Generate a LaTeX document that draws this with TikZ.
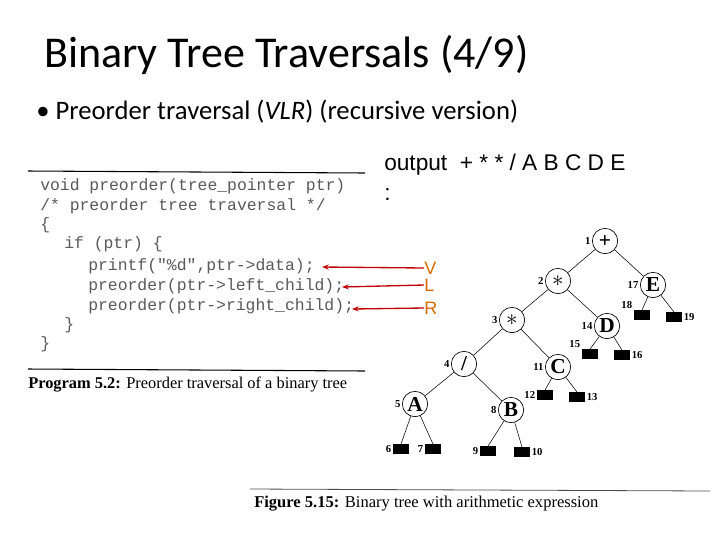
\documentclass[tikz,border=0pt]{standalone}
\usepackage{fontspec}
\setmainfont{Carlito}
\newfontfamily\codef{Liberation Mono}
\newfontfamily\serf{Liberation Serif}
\newfontfamily\arial{Liberation Sans}
\usetikzlibrary{arrows.meta}
\begin{document}
\begin{tikzpicture}[x=0.75pt,y=-0.75pt,
  inode/.style={circle,draw,line width=0.5pt,minimum size=19pt,inner sep=0pt,font=\serf\bfseries\fontsize{16}{16}\selectfont},
  leaf/.style={fill=black,minimum width=12pt,minimum height=7pt,inner sep=0pt},
  num/.style={font=\serf\bfseries\fontsize{8}{8}\selectfont,inner sep=1pt},
  code/.style={anchor=west,font=\codef\fontsize{12.3}{13}\selectfont,text=black!65,inner sep=0pt},
  redarr/.style={draw=red!75!black,line width=1pt,-{Stealth[length=5pt]}},
  vlr/.style={anchor=west,font=\arial\fontsize{13.5}{14}\selectfont,text=orange!85!black,inner sep=0pt}]
\useasboundingbox (0,0) rectangle (720,540);
\node[anchor=west,inner sep=0pt,font=\fontsize{33}{36}\selectfont] (title) at (44,55) {Binary Tree Traversals (4/9)};
\node[anchor=west,inner sep=0pt,font=\fontsize{20}{22}\selectfont] (bullet) at (36,112) {• Preorder traversal (\textit{VLR}) (recursive version)};
\node[anchor=west,inner sep=0pt,font=\arial\fontsize{17}{19}\selectfont] (out) at (384,165) {output~ + * * / A B C D E};
\node[anchor=west,inner sep=0pt,font=\arial\fontsize{17}{19}\selectfont] (colon) at (384,195) {:};
% code
\coordinate (t1) at (28,171); \coordinate (t2) at (365,173);
\draw[line width=0.8pt] (t1) -- (t2);
\node[code] (c1) at (40,186) {void preorder(tree\_pointer ptr)};
\node[code] (c2) at (40,206) {/* preorder tree traversal */};
\node[code] (c3) at (40,225) {\{};
\node[code] (c4) at (64,244) {if (ptr) \{};
\node[code] (c5) at (88,266) {printf("\%d",ptr->data);};
\node[code] (c6) at (88,286) {preorder(ptr->left\_child);};
\node[code] (c7) at (88,306) {preorder(ptr->right\_child);};
\node[code] (c8) at (64,325) {\}};
\node[code] (c9) at (40,344) {\}};
\coordinate (b1) at (28,369); \coordinate (b2) at (365,371);
\draw[line width=0.8pt] (b1) -- (b2);
\node[anchor=west,inner sep=0pt,font=\serf\fontsize{12.3}{13}\selectfont] (cap1) at (28,385) {\textbf{Program 5.2:} Preorder traversal of a binary tree};
% VLR
\node[vlr] (V) at (424,268) {V};
\node[vlr] (L) at (424,285) {L};
\node[vlr] (R) at (424,308) {R};
\coordinate (aV) at (322,267); \coordinate (aL) at (342,287); \coordinate (aR) at (352,309);
\draw[redarr] (V.west) -- (aV);
\draw[redarr] (L.west) -- (aL);
\draw[redarr] (R.west) -- (aR);
% tree
\node[inode] (n1) at (605,241) {+};
\node[inode] (n2) at (558,281) {$\ast$};
\node[inode] (n17) at (653,285) {E};
\node[inode] (n3) at (512,320) {$\ast$};
\node[inode] (n14) at (607,326) {D};
\node[inode] (n4) at (464,364) {/};
\node[inode] (n11) at (558,367) {C};
\node[inode] (n5) at (415,404) {A};
\node[inode] (n8) at (511,410) {B};
\node[leaf] (n18) at (642,315) {}; \node[leaf] (n19) at (674,317) {};
\node[leaf] (n15) at (590,354) {}; \node[leaf] (n16) at (622,355) {};
\node[leaf] (n12) at (545,395) {}; \node[leaf] (n13) at (577,397) {};
\node[leaf] (n6) at (401,449) {}; \node[leaf] (n7) at (433,449) {};
\node[leaf] (n9) at (488,451) {}; \node[leaf] (n10) at (522,452) {};
\foreach \a/\b in {n1/n2,n1/n17,n2/n3,n2/n14,n3/n4,n3/n11,n4/n5,n4/n8}
  \draw[line width=0.4pt] (\a) -- (\b);
\foreach \a/\b in {n17/n18,n17/n19,n14/n15,n14/n16,n11/n12,n11/n13,n5/n6,n5/n7,n8/n9,n8/n10}
  \draw[line width=0.4pt] (\a) -- (\b.north);
\foreach \n/\t in {n1/1,n2/2,n17/17,n3/3,n14/14,n4/4,n11/11,n5/5,n8/8}
  \node[num,anchor=east] at (\n.west) {\t};
\foreach \n/\t in {n6/6,n7/7,n9/9,n12/12}
  \node[num,anchor=east] at (\n.west) {\t};
\foreach \n/\t in {n15/15,n18/18}
  \node[num,anchor=south east] at (\n.north west) {\t};
\foreach \n/\t in {n10/10,n13/13,n16/16,n19/19}
  \node[num,anchor=west] at (\n.east) {\t};
\coordinate (f1) at (250,489); \coordinate (f2) at (710,491);
\draw[line width=0.6pt,black!70] (f1) -- (f2);
\node[anchor=west,inner sep=0pt,font=\serf\fontsize{12.4}{13}\selectfont] (cap2) at (254,504) {\textbf{Figure 5.15:} Binary tree with arithmetic expression};
\end{tikzpicture}
\end{document}
